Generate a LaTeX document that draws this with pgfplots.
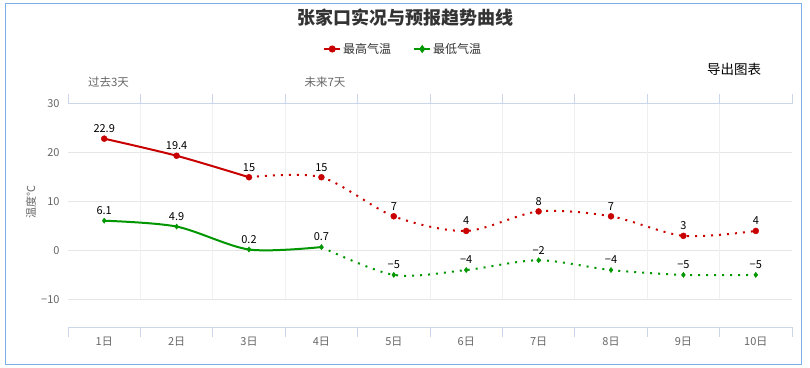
\documentclass[border=0pt]{standalone}
\usepackage{pgfplots}
\pgfplotsset{compat=1.18}
\usepackage{pgfplotstable}
\usepackage{fontspec}
\setmainfont{Noto Sans CJK SC}
\definecolor{hired}{HTML}{C80000}
\definecolor{logreen}{HTML}{009600}
\definecolor{gridc}{HTML}{E6E6E6}
\definecolor{vgridc}{HTML}{F0F0F0}
\definecolor{axisc}{HTML}{CCD6EB}
\definecolor{labc}{HTML}{666666}
\definecolor{borderc}{HTML}{7CB0E6}
\definecolor{titlec}{HTML}{333333}

\pgfplotstableread{
x hi hil lo lol
1 22.9 22.9 6.1 6.1
2 19.4 19.4 4.9 4.9
3 15 15 0.2 0.2
4 15 15 0.7 0.7
5 7 7 -5 −5
6 4 4 -4 −4
7 8 8 -2 −2
8 7 7 -4 −4
9 3 3 -5 −5
10 4 4 -5 −5
}\data

\begin{document}
\begin{tikzpicture}
\useasboundingbox (0,0) rectangle (810bp,368bp);
\draw[borderc, line width=1.3bp] (5.7bp,3.7bp) rectangle (801.7bp,364.7bp);
\begin{axis}[
  at={(68bp,41bp)}, anchor=south west,
  scale only axis, width=724bp, height=223bp,
  xmin=0.5, xmax=10.5, ymin=-15.67, ymax=30,
  clip=false,
  axis line style={draw=none},
  xtick={1,...,10},
  xticklabels={1日,2日,3日,4日,5日,6日,7日,8日,9日,10日},
  ytick={-10,0,10,20,30},
  yticklabels={−10,0,10,20,30},
  tick style={draw=none}, major tick length=0pt,
  ymajorgrids, grid style={gridc, line width=1bp},
  tick label style={font=\fontsize{11bp}{13bp}\selectfont, text=labc},
  xticklabel style={anchor=center, yshift=-14.7bp},
  yticklabel style={anchor=east, xshift=-5bp},
  legend style={at={(0.463,1.2466)}, anchor=center, draw=none, fill=none,
    legend columns=2, font=\fontsize{12bp}{14bp}\selectfont, text=titlec,
    /tikz/every even column/.append style={column sep=20bp}},
  legend image code/.code={\draw[mark repeat=2,mark phase=2,#1] plot coordinates {(0bp,0bp) (8bp,0bp) (16bp,0bp)};},
]
\addlegendimage{hired, line width=2bp, mark=*, mark size=2.5bp}
\addlegendentry{最高气温}
\addlegendimage{logreen, line width=2bp, mark=diamond*, mark size=2.5bp}
\addlegendentry{最低气温}

\pgfplotsinvokeforeach{1.5,2.5,3.5,4.5,5.5,6.5,7.5,8.5,9.5}{
  \draw[vgridc, line width=1bp] (axis cs:#1,-10) -- (axis cs:#1,30);
}
\draw[axisc, line width=1bp] (axis cs:0.5,30) -- (axis cs:10.5,30);
\draw[axisc, line width=1bp] (axis cs:0.5,-15.67) -- (axis cs:10.5,-15.67);
\pgfplotsinvokeforeach{0.5,1.5,2.5,3.5,4.5,5.5,6.5,7.5,8.5,9.5,10.5}{
  \draw[axisc, line width=1bp] (axis cs:#1,30) -- ++(0pt,9.5bp);
  \draw[axisc, line width=1bp] (axis cs:#1,-15.67) -- ++(0pt,-9.5bp);
}

% high temps
\addplot[hired, line width=2bp, smooth, tension=0.5, forget plot, restrict x to domain=1:3] table[x=x,y=hi]{\data};
\addplot[hired, line width=2bp, smooth, tension=0.5, dash pattern=on 2bp off 6bp, forget plot, restrict x to domain=3:10] table[x=x,y=hi]{\data};
% low temps
\addplot[logreen, line width=2bp, smooth, tension=0.5, forget plot, restrict x to domain=1:4] table[x=x,y=lo]{\data};
\addplot[logreen, line width=2bp, smooth, tension=0.5, dash pattern=on 2bp off 6bp, forget plot, restrict x to domain=4:10] table[x=x,y=lo]{\data};

\addplot[only marks, mark=*, mark size=3bp, hired, forget plot,
  point meta=explicit symbolic, nodes near coords,
  nodes near coords style={anchor=center, yshift=10bp, text=black, font=\fontsize{11bp}{13bp}\selectfont}]
  table[x=x,y=hi,meta=hil]{\data};
\addplot[only marks, mark=diamond*, mark size=2.6bp, logreen, forget plot,
  point meta=explicit symbolic, nodes near coords,
  nodes near coords style={anchor=center, yshift=10bp, text=black, font=\fontsize{11bp}{13bp}\selectfont}]
  table[x=x,y=lo,meta=lol]{\data};
\end{axis}

\node[font=\fontsize{18bp}{20bp}\selectfont\bfseries, text=titlec] at (405bp,350bp) {张家口实况与预报趋势曲线};
\node[font=\fontsize{11.5bp}{13bp}\selectfont, text=labc] at (108.5bp,286bp) {过去3天};
\node[font=\fontsize{11.5bp}{13bp}\selectfont, text=labc] at (325bp,286bp) {未来7天};
\node[font=\fontsize{13.5bp}{15bp}\selectfont, text=black] at (734bp,299bp) {导出图表};
\node[font=\fontsize{11bp}{13bp}\selectfont, text=labc, rotate=90] at (31bp,165.5bp) {温度℃};
\end{tikzpicture}
\end{document}
